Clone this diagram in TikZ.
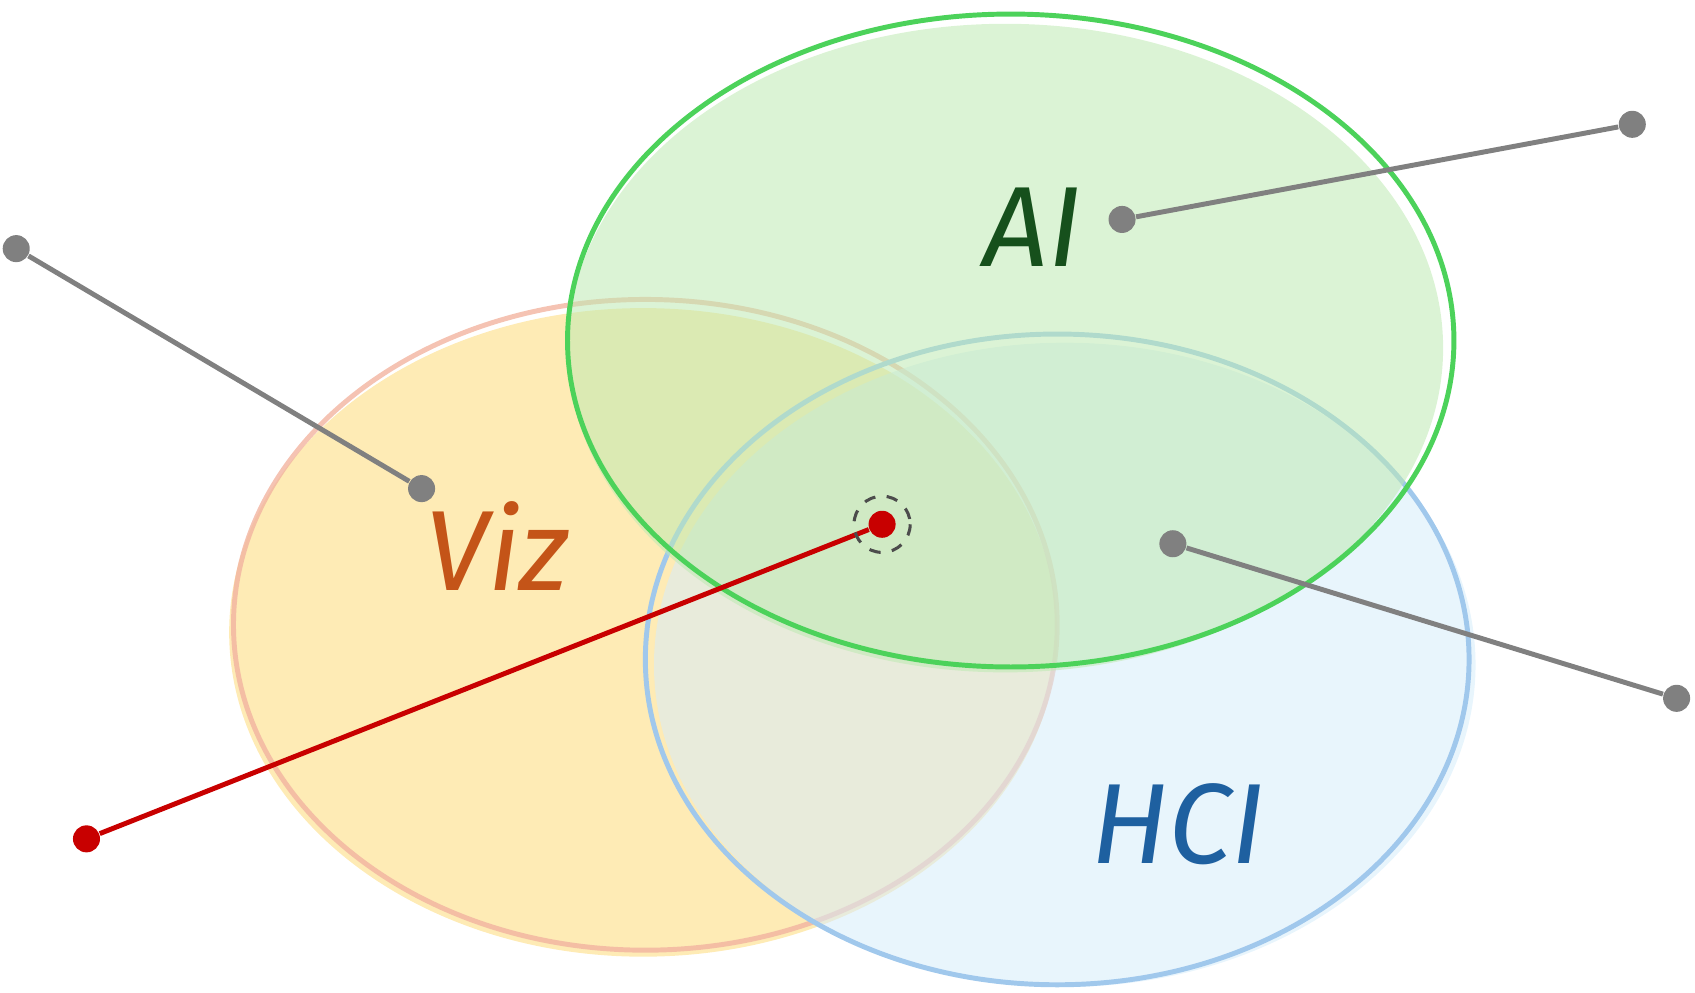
\documentclass[tikz,border=0pt]{standalone}
\usepackage{fontspec}
\setmainfont{Fira Sans}
\definecolor{vizfill}{RGB}{253,226,150}
\definecolor{vizline}{RGB}{242,180,160}
\definecolor{viztext}{RGB}{196,84,24}
\definecolor{aifill}{RGB}{190,234,178}
\definecolor{ailine}{RGB}{76,210,90}
\definecolor{aitext}{RGB}{22,80,28}
\definecolor{hcifill}{RGB}{214,236,250}
\definecolor{hciline}{RGB}{160,200,236}
\definecolor{hcitext}{RGB}{30,96,160}
\definecolor{pingray}{RGB}{128,128,128}
\definecolor{pinred}{RGB}{200,0,0}
\tikzset{
	pin/.style={circle,fill=pingray,inner sep=0pt,minimum size=0.25cm},
	redpin/.style={pin,fill=pinred},
	label text/.style={font=\itshape\fontsize{30}{30}\selectfont}
}
\begin{document}
\begin{tikzpicture}[x=0.01cm,y=-0.01cm]
		\useasboundingbox (0,0) rectangle (1568,918);

		% Viz
		\fill[vizfill,fill opacity=0.7] (595,585) ellipse (383 and 300);
		\draw[vizline,line width=1.3pt,opacity=0.8] (597,578) ellipse (381 and 301);

		% HCI
		\fill[hcifill,fill opacity=0.55] (985,615) ellipse (380 and 298);
		\draw[hciline,line width=1.3pt] (978,610) ellipse (381 and 301);

		% AI
		\fill[aifill,fill opacity=0.55] (930,322) ellipse (405 and 300);
		\draw[ailine,line width=1.3pt] (935,315) ellipse (410 and 302);

		% labels
		\node[label text,text=aitext] (ai) at (955,210) {AI};
		\node[label text,text=viztext] (viz) at (460,505) {Viz};
		\node[label text,text=hcitext] (hci) at (1090,762) {HCI};

		% pins
		\node[pin] (p1a) at (15,230) {};
		\node[pin] (p1b) at (390,452) {};
		\node[pin] (p2a) at (1038,203) {};
		\node[pin] (p2b) at (1510,115) {};
		\node[pin] (p3a) at (1085,503) {};
		\node[pin] (p3b) at (1551,646) {};
		\node[redpin] (r1) at (80,776) {};
		\node[redpin] (r2) at (816,485) {};
		\draw[pingray,line width=1.3pt] (p1a) -- (p1b);
		\draw[pingray,line width=1.3pt] (p2a) -- (p2b);
		\draw[pingray,line width=1.3pt] (p3a) -- (p3b);
		\draw[pinred,line width=1.3pt] (r1) -- (r2);
		\draw[black!70,dashed,line width=0.8pt] (r2) circle (26);
	\end{tikzpicture}
\end{document}
